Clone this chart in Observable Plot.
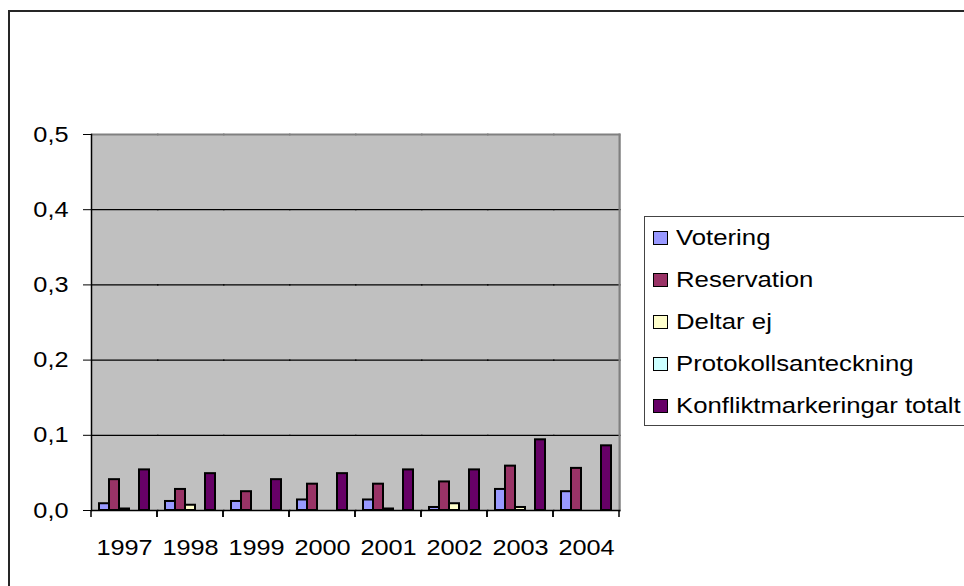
<!DOCTYPE html>
<html>
<head>
<meta charset="utf-8">
<script src="https://cdn.jsdelivr.net/npm/d3@7"></script>
<script src="https://cdn.jsdelivr.net/npm/@observablehq/plot@0.6"></script>
<style>
  html, body { margin: 0; padding: 0; background: #fff; overflow: hidden; }
  #chart { position: relative; width: 964px; height: 586px; font-family: "Liberation Sans", Arial, sans-serif; }
  #chart svg { position: absolute; left: 0; top: 0; }
  #border { position: absolute; left: 8px; top: 10px; width: 1200px; height: 1200px;
            border: 2px solid #262626; box-sizing: border-box; pointer-events: none; }
  #legend { position: absolute; left: 644px; top: 216px; width: 400px; height: 210px;
            border: 1px solid #444; box-sizing: border-box; background: #fff; }
  .row { position: absolute; left: 0; height: 42px; display: flex; align-items: center; }
  .sw { width: 13px; height: 12px; border: 1px solid #000; margin-left: 8px; margin-right: 8px; }
  .lab { font-size: 22px; color: #000; white-space: nowrap; transform: scaleX(1.17); transform-origin: left center; }
</style>
</head>
<body>
<div id="chart"></div>
<script>
// Categories and series
const years = ["1997", "1998", "1999", "2000", "2001", "2002", "2003", "2004"];
const seriesNames = ["Votering", "Reservation", "Deltar ej", "Protokollsanteckning", "Konfliktmarkeringar totalt"];
const seriesColors = ["#9999FF", "#993366", "#FFFFCC", "#CCFFFF", "#660066"];

// Share per year for each series
const votering = [0.009, 0.012, 0.012, 0.014, 0.014, 0.004, 0.028, 0.025];
const reservation = [0.041, 0.028, 0.025, 0.035, 0.035, 0.038, 0.059, 0.056];
const deltarEj = [0.002, 0.007, 0, 0, 0.002, 0.009, 0.004, 0];
const protokollsanteckning = [0, 0, 0, 0, 0, 0, 0, 0];
const konfliktTotalt = [0.054, 0.049, 0.041, 0.049, 0.054, 0.054, 0.094, 0.086];

// Y axis ticks
const tickValues = [0, 0.1, 0.2, 0.3, 0.4, 0.5];
const tickLabels = ["0,0", "0,1", "0,2", "0,3", "0,4", "0,5"];

const seriesValues = [votering, reservation, deltarEj, protokollsanteckning, konfliktTotalt];
const rows = [];
years.forEach((year, i) => {
  seriesNames.forEach((s, j) => rows.push({year, series: s, value: seriesValues[j][i]}));
});

const W = 964, H = 586;

// Short category separators hanging below the x axis, at both edges of each year group
function categoryTicks(index, scales, values, dim) {
  const g = d3.create("svg:g").attr("aria-label", "category ticks");
  const y0 = scales.y(0);
  for (const x of [dim.marginLeft, dim.width - dim.marginRight]) {
    g.append("line")
      .attr("x1", x).attr("x2", x)
      .attr("y1", y0).attr("y2", y0 + 7)
      .attr("stroke", "#000").attr("stroke-width", 1.5);
  }
  return g.node();
}

const plot = Plot.plot({
  width: W,
  height: H,
  marginLeft: 88,
  marginRight: W - 622,
  marginTop: 134,
  marginBottom: 76,
  style: {fontFamily: "Liberation Sans, Arial, sans-serif", fontSize: "22px", background: "transparent", color: "#000"},
  fx: {domain: years, padding: 0, label: null},
  x: {domain: seriesNames, paddingInner: 0, paddingOuter: 0.7, axis: null},
  y: {domain: [0, 0.5], label: null},
  color: {domain: seriesNames, range: seriesColors},
  marks: [
    // gray plot area; each year panel overlaps its neighbour slightly so no seams show
    Plot.frame({fill: "#C0C0C0", stroke: "none", insetRight: -1.5}),
    Plot.gridY(tickValues.slice(1, -1), {stroke: "#000", strokeOpacity: 1, strokeWidth: 1.2, insetRight: -1.5}),
    Plot.ruleY([0.5], {stroke: "#808080", strokeWidth: 2, insetRight: -1.5}),
    Plot.frame({anchor: "right", facetAnchor: "right", stroke: "#808080", strokeWidth: 2}),
    Plot.barY(rows, {fx: "year", x: "series", y: "value", fill: "series", stroke: "#000", strokeWidth: 2}),
    Plot.ruleY([0], {stroke: "#000", strokeWidth: 1.5, insetRight: -1.5}),
    Plot.frame({anchor: "left", facetAnchor: "left", stroke: "#000", strokeWidth: 1.5}),
    categoryTicks,
    Plot.axisY({ticks: tickValues, tickFormat: (d) => tickLabels[tickValues.indexOf(d)], tickSize: 8, tickPadding: 15, label: null}),
    Plot.axisFx({anchor: "bottom", tickSize: 0, tickPadding: 29, label: null})
  ]
});

const chart = document.getElementById("chart");
chart.appendChild(plot);

// Widen axis labels horizontally about their anchor point
function stretch(t, k) {
  const b = t.getBBox();
  const anchor = t.getAttribute("text-anchor") || getComputedStyle(t).textAnchor || "start";
  const px = anchor === "end" ? b.x + b.width : anchor === "middle" ? b.x + b.width / 2 : b.x;
  const py = b.y + b.height / 2;
  const tr = t.getAttribute("transform") || "";
  t.setAttribute("transform", `${tr} translate(${px},${py}) scale(${k},1) translate(${-px},${-py})`);
}
plot.querySelectorAll("text").forEach((t) => stretch(t, 1.15));

// Outer chart border
const border = document.createElement("div");
border.id = "border";
chart.appendChild(border);

// Legend
const legend = document.createElement("div");
legend.id = "legend";
seriesNames.forEach((name, i) => {
  const row = document.createElement("div");
  row.className = "row";
  row.style.top = (i * 42) + "px";
  const sw = document.createElement("div");
  sw.className = "sw";
  sw.style.background = seriesColors[i];
  const lab = document.createElement("span");
  lab.className = "lab";
  lab.textContent = name;
  row.appendChild(sw);
  row.appendChild(lab);
  legend.appendChild(row);
});
chart.appendChild(legend);
</script>
</body>
</html>
